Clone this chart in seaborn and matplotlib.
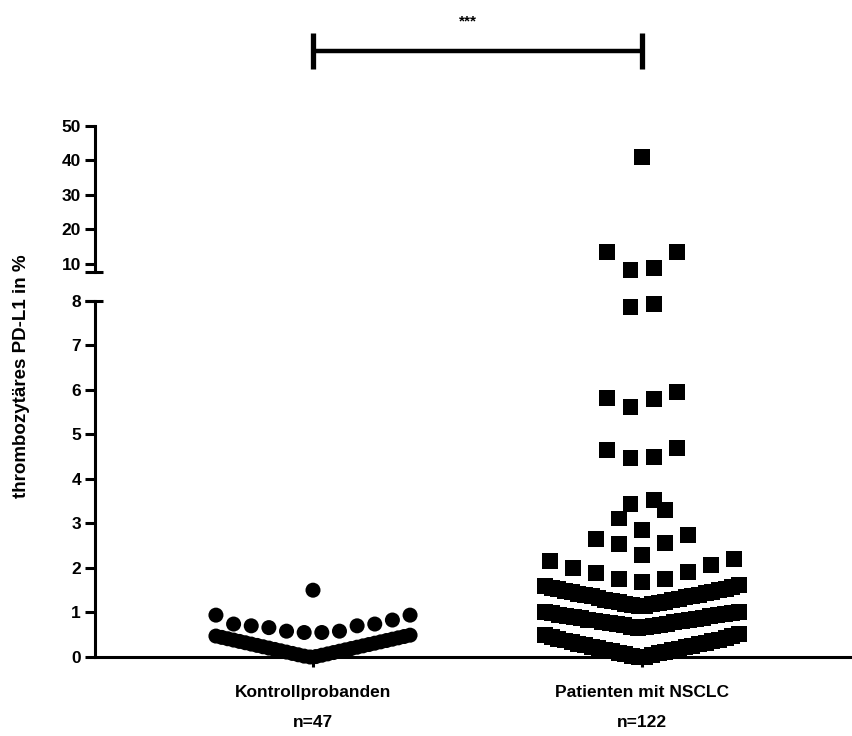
import numpy as np
import pandas as pd
import matplotlib
matplotlib.use("Agg")
import matplotlib.pyplot as plt
import seaborn as sns
from matplotlib.transforms import blended_transform_factory

# categories and counts
groups = ["Kontrollprobanden", "Patienten mit NSCLC"]
group_n = ["n=47", "n=122"]

# thrombozytäres PD-L1 in %
kontroll = [0.00, 0.01, 0.02, 0.04, 0.05, 0.07, 0.08, 0.10, 0.11, 0.13, 0.14, 0.16,
            0.17, 0.19, 0.20, 0.22, 0.23, 0.25, 0.26, 0.28, 0.29, 0.31, 0.32, 0.34,
            0.35, 0.37, 0.38, 0.40, 0.41, 0.43, 0.44, 0.46, 0.47, 0.49,
            0.55, 0.55, 0.58, 0.58, 0.66, 0.70, 0.70, 0.74, 0.74, 0.83, 0.94, 0.94,
            1.50]

nsclc = [0.00, 0.01, 0.03, 0.04, 0.06, 0.08, 0.09, 0.11, 0.13, 0.15, 0.16, 0.18,
         0.20, 0.22, 0.23, 0.25, 0.27, 0.29, 0.30, 0.32, 0.34, 0.36, 0.37, 0.39,
         0.41, 0.43, 0.45, 0.47, 0.50, 0.52,
         0.66, 0.67, 0.68, 0.70, 0.71, 0.72, 0.74, 0.75, 0.76, 0.78, 0.79, 0.80,
         0.82, 0.83, 0.84, 0.86, 0.87, 0.88, 0.90, 0.91, 0.92, 0.94, 0.95, 0.96,
         0.98, 0.99, 1.00, 1.02,
         1.14, 1.15, 1.17, 1.18, 1.20, 1.21, 1.23, 1.24, 1.26, 1.28, 1.29, 1.31,
         1.32, 1.34, 1.36, 1.37, 1.39, 1.40, 1.42, 1.44, 1.45, 1.47, 1.48, 1.50,
         1.52, 1.53, 1.55, 1.57, 1.59, 1.62,
         1.69, 1.75, 1.75, 1.89, 1.91, 1.99, 2.06, 2.15, 2.20,
         2.30, 2.53, 2.55, 2.64, 2.73, 2.85, 3.11, 3.29, 3.44, 3.52,
         4.47, 4.50, 4.65, 4.69,
         5.62, 5.80, 5.82, 5.95,
         7.85, 7.93,
         8.26, 8.93, 13.5, 13.6, 41.1]

low_ticks = [0, 1, 2, 3, 4, 5, 6, 7, 8]
high_ticks = [10, 20, 30, 40, 50]
low_lim = (0, 8)
high_lim = (7.68, 50)


def prism_offsets(values, step, max_span=0.59, bin_h=0.56):
    # Prism-like column scatter: bin by height, lowest value in the middle
    values = np.asarray(values, float)
    keys = np.where(values <= low_lim[1],
                    np.floor((values + 0.02) / bin_h),
                    1000 + np.floor((values - high_lim[0]) / 6.4))
    x = np.zeros(len(values))
    for k in np.unique(keys):
        idx = np.where(keys == k)[0]
        idx = idx[np.argsort(values[idx], kind="stable")]
        n = len(idx)
        s = step if n < 2 else min(step, max_span / (n - 1))
        off = (np.arange(n) - (n - 1) / 2) * s
        order = np.lexsort((off, np.abs(off)))
        x[idx] = off[order]
    return x


df = pd.concat([
    pd.DataFrame({"group": groups[0], "value": kontroll,
                  "pos": 0 + prism_offsets(kontroll, 0.054)}),
    pd.DataFrame({"group": groups[1], "value": nsclc,
                  "pos": 1 + prism_offsets(nsclc, 0.070)}),
], ignore_index=True)

sns.set_style("ticks")
plt.rcParams["font.family"] = ["Liberation Sans", "DejaVu Sans"]
plt.rcParams["font.weight"] = "bold"
plt.rcParams["axes.linewidth"] = 2.2
for key in ["text.color", "axes.edgecolor", "xtick.color", "ytick.color",
            "axes.labelcolor"]:
    plt.rcParams[key] = "black"

W, H = 853, 736
fig = plt.figure(figsize=(W / 100, H / 100), dpi=100)
ax_lo = fig.add_axes([95 / W, 1 - 657 / H, (853 - 95) / W, (657 - 300.7) / H])
ax_hi = fig.add_axes([95 / W, 1 - 272 / H, (853 - 95) / W, (272 - 126) / H])

markers = {groups[0]: "o", groups[1]: "s"}
sizes = {groups[0]: 117, groups[1]: 132}

for ax, part in [(ax_lo, df[df.value <= low_lim[1]]), (ax_hi, df[df.value > low_lim[1]])]:
    sns.scatterplot(data=part, x="pos", y="value", style="group", markers=markers,
                    size="group", sizes=sizes, color="black", linewidth=0,
                    legend=False, ax=ax, clip_on=False)
    ax.set_xlim(-0.6626, 1.6413)
    ax.set_xlabel("")
    ax.set_ylabel("")
    ax.spines["top"].set_visible(False)
    ax.spines["right"].set_visible(False)
    ax.tick_params(axis="y", length=7, width=2.2, labelsize=12.5, pad=3)

ax_lo.set_ylim(*low_lim)
ax_lo.set_yticks(low_ticks)
ax_lo.set_xticks([0, 1])
ax_lo.set_xticklabels([f"{g}\n{n}" for g, n in zip(groups, group_n)],
                      fontsize=12.5, fontweight="bold", linespacing=2.25)
ax_lo.tick_params(axis="x", length=7, width=2.2, pad=13)

ax_hi.set_ylim(*high_lim)
ax_hi.set_yticks(high_ticks)
ax_hi.spines["bottom"].set_visible(False)
ax_hi.tick_params(axis="x", bottom=False, labelbottom=False)

# axis break caps
for ax, yv in [(ax_lo, low_lim[1]), (ax_hi, high_lim[0])]:
    tr = blended_transform_factory(ax.transAxes, ax.transData)
    ax.plot([-0.0135, 0.011], [yv, yv], color="black", lw=2.2, transform=tr,
            clip_on=False, solid_capstyle="butt")

fig.text(22 / W, 1 - 376 / H, "thrombozytäres PD-L1 in %", rotation=90,
         ha="center", va="center", fontsize=13.5, fontweight="bold")

# significance bar
tr = blended_transform_factory(ax_lo.transData, fig.transFigure)
ax_lo.plot([0, 1], [1 - 51 / H] * 2, color="black", lw=3.2, transform=tr,
           clip_on=False, solid_capstyle="butt")
for xv in [0, 1]:
    ax_lo.plot([xv, xv], [1 - 33 / H, 1 - 69 / H], color="black", lw=3.8,
               transform=tr, clip_on=False, solid_capstyle="butt")
ax_lo.text(0.471, 1 - 21 / H, "***", transform=tr, ha="center", va="center",
           fontsize=11, fontweight="bold")

fig.savefig("out.png", dpi=100)
